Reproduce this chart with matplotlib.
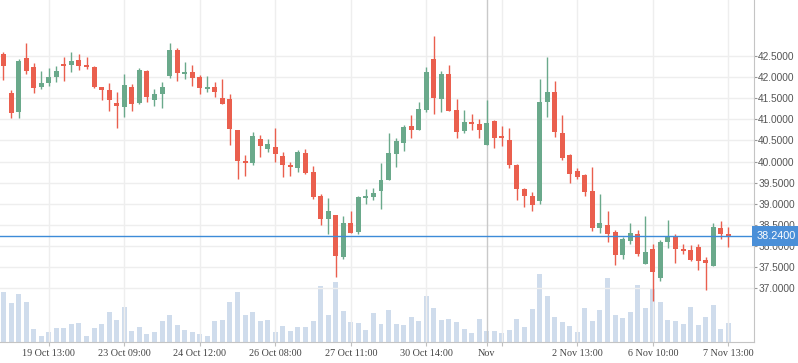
import matplotlib
matplotlib.use("Agg")
import matplotlib.pyplot as plt
import matplotlib.transforms as mtransforms

# OHLC, one candle per period
opens = [42.55, 41.62, 41.18, 42.45, 42.24, 41.77, 41.87, 42.01, 42.29, 42.29,
         42.41, 42.29, 42.24, 41.76, 41.69, 41.39, 41.30, 41.76, 41.39, 42.14,
         41.46, 41.61, 42.03, 42.64, 42.08, 42.12, 42.00, 41.73, 41.76, 41.50,
         41.48, 40.75, 40.01, 39.97, 40.53, 40.30, 40.34, 40.13, 39.92, 39.85,
         40.20, 39.75, 39.18, 38.64, 38.73, 37.74, 38.54, 38.33, 39.14, 39.17,
         39.31, 39.57, 40.18, 40.44, 40.84, 40.75, 41.23, 42.43, 41.49, 42.07,
         41.22, 40.73, 40.93, 40.89, 40.40, 40.96, 40.60, 40.51, 39.92, 39.35,
         39.18, 39.07, 41.42, 41.65, 40.67, 40.15, 39.77, 39.68, 39.30, 38.43,
         38.49, 38.33, 37.79, 38.12, 38.28, 37.58, 37.92, 37.24, 38.10, 38.25,
         37.92, 37.90, 37.97, 37.67, 37.53, 38.42, 38.28]
closes = [42.26, 41.16, 42.38, 42.15, 41.75, 41.86, 42.00, 42.14, 42.27, 42.38,
          42.27, 42.25, 41.77, 41.70, 41.46, 41.32, 41.81, 41.37, 42.17, 41.54,
          41.60, 41.76, 42.64, 42.10, 42.10, 41.99, 41.75, 41.76, 41.65, 41.37,
          40.78, 40.02, 39.97, 40.60, 40.37, 40.41, 40.18, 39.92, 39.88, 40.22,
          39.73, 39.16, 38.64, 38.82, 37.76, 38.54, 38.31, 39.16, 39.18, 39.25,
          39.56, 40.20, 40.48, 40.82, 40.75, 41.24, 42.12, 41.51, 42.07, 41.20,
          40.71, 40.93, 40.90, 40.75, 40.91, 40.56, 40.55, 39.92, 39.35, 39.19,
          38.97, 41.41, 41.65, 40.71, 40.09, 39.71, 39.64, 39.28, 38.43, 38.54,
          38.29, 37.79, 38.16, 38.30, 37.81, 37.85, 37.39, 38.09, 38.25, 37.93,
          37.88, 37.67, 37.65, 37.60, 38.44, 38.29, 38.24]
highs = [42.59, 41.69, 42.44, 42.81, 42.33, 42.14, 42.22, 42.26, 42.48, 42.59,
         42.55, 42.48, 42.26, 41.76, 41.86, 41.65, 42.07, 41.84, 42.22, 42.16,
         41.72, 41.88, 42.81, 42.69, 42.36, 42.29, 42.05, 42.03, 41.88, 41.95,
         41.60, 40.75, 40.15, 40.70, 40.63, 40.53, 40.79, 40.22, 39.99, 40.27,
         40.29, 39.89, 39.23, 39.13, 38.73, 38.71, 38.82, 39.18, 39.35, 39.37,
         39.96, 40.67, 40.55, 40.86, 41.10, 41.41, 42.24, 42.97, 42.14, 42.29,
         41.48, 41.22, 41.12, 41.01, 41.46, 40.99, 40.84, 40.79, 39.94, 39.37,
         39.27, 41.95, 42.48, 41.91, 41.10, 40.18, 39.84, 39.70, 39.87, 39.23,
         38.82, 38.37, 38.21, 38.54, 38.37, 38.71, 38.04, 38.14, 38.61, 38.28,
         38.06, 38.02, 38.06, 37.73, 38.54, 38.59, 38.44]
lows = [41.93, 41.04, 41.04, 42.08, 41.63, 41.73, 41.80, 41.89, 41.92, 42.12,
        42.18, 42.20, 41.75, 41.46, 41.20, 40.80, 41.06, 41.20, 41.37, 41.42,
        41.32, 41.27, 41.99, 41.92, 41.96, 41.80, 41.61, 41.65, 41.54, 41.37,
        40.40, 39.59, 39.66, 39.92, 40.11, 40.23, 39.99, 39.64, 39.66, 39.76,
        39.71, 39.12, 38.50, 38.29, 37.27, 37.69, 38.31, 38.29, 39.00, 39.08,
        38.88, 39.57, 39.88, 40.25, 40.56, 40.75, 41.18, 41.13, 41.18, 41.20,
        40.56, 40.68, 40.75, 40.56, 40.40, 40.33, 40.37, 39.85, 39.09, 38.93,
        38.83, 39.00, 41.06, 40.59, 40.04, 39.50, 39.59, 39.19, 38.36, 38.31,
        38.10, 37.55, 37.69, 38.05, 37.76, 37.58, 36.70, 37.17, 37.95, 37.60,
        37.81, 37.65, 37.43, 36.96, 37.53, 38.17, 37.98]
volumes = [150, 117, 144, 120, 39, 18, 30, 42, 42, 54,
           57, 18, 42, 54, 90, 66, 105, 33, 45, 24,
           30, 63, 81, 51, 36, 30, 24, 18, 63, 66,
           120, 150, 81, 90, 63, 66, 30, 48, 33, 45,
           45, 63, 168, 81, 180, 93, 60, 57, 36, 87,
           54, 96, 54, 51, 75, 63, 138, 102, 66, 69,
           60, 39, 27, 69, 33, 33, 27, 36, 69, 45,
           99, 204, 138, 75, 60, 48, 30, 102, 63, 96,
           192, 81, 72, 90, 171, 102, 159, 120, 66, 63,
           54, 105, 51, 75, 111, 39, 57]

tick_pos = [6, 16, 26, 36, 46, 56, 64, 66, 76, 86, 96]
tick_labels = ["19 Oct 13:00", "23 Oct 09:00", "24 Oct 12:00", "26 Oct 08:00",
               "27 Oct 11:00", "30 Oct 14:00", "Nov", "", "2 Nov 13:00",
               "6 Nov 10:00", "7 Nov 13:00"]
month_pos = 64
price_ticks = [37.0, 37.5, 38.0, 38.5, 39.0, 39.5, 40.0, 40.5, 41.0, 41.5, 42.0, 42.5]
last_price = 38.24

UP = "#6aa98b"
DOWN = "#ea5f4e"
VOL = "#cfdcec"
GRID = "#eeeeee"

fig = plt.figure(figsize=(7.98, 3.63), dpi=100)
rect = [0, 21 / 363, 754 / 798, 342 / 363]
ax_v = fig.add_axes(rect, zorder=0)
ax = fig.add_axes(rect, zorder=1)
ax.patch.set_visible(False)

x = list(range(len(closes)))

# volume underneath
ax_v.bar(x, volumes, width=0.66, color=VOL, linewidth=0)
ax_v.set_ylim(0, 1030)
ax_v.set_xlim(-0.46, 99.4)
ax_v.axis("off")

# candles
colors = [UP if c >= o else DOWN for o, c in zip(opens, closes)]
ax.vlines(x, lows, highs, colors=colors, linewidth=1.0, zorder=3)
bottoms = [min(o, c) for o, c in zip(opens, closes)]
heights = [max(abs(c - o), 0.04) for o, c in zip(opens, closes)]
ax.bar(x, heights, bottom=bottoms, width=0.66, color=colors, linewidth=0, zorder=4)

ax.set_xlim(-0.46, 99.4)
ax.set_ylim(35.729, 43.826)

# grid
for p in price_ticks:
    ax.axhline(p, color=GRID, linewidth=1.0, zorder=1)
for t in tick_pos:
    ax.axvline(t, color="#c9c9c9" if t == month_pos else GRID, linewidth=1.0, zorder=1)

ax.axhline(last_price, color="#3d8bd8", linewidth=1.0, zorder=5)

ax.set_xticks(tick_pos)
ax.set_xticklabels(tick_labels, fontfamily="Liberation Serif", fontsize=7.3, color="#444444")
ax.yaxis.tick_right()
ax.set_yticks(price_ticks)
ax.set_yticklabels([f"{p:.4f}" for p in price_ticks], fontfamily="Liberation Sans",
                   fontsize=7.3, color="#555555")
ax.tick_params(axis="x", length=3, width=0.8, color="#c0c0c0", pad=2)
ax.tick_params(axis="y", length=2, width=0.8, color="#999999", pad=1)

for side in ["top", "left"]:
    ax.spines[side].set_visible(False)
ax.spines["right"].set_color("#c4c4c4")
ax.spines["bottom"].set_color("#c4c4c4")

trans = mtransforms.blended_transform_factory(ax.transAxes, ax.transData)
ax.text(1.004, last_price, f"{last_price:.4f}", transform=trans, ha="left", va="center",
        fontfamily="Liberation Sans", fontsize=7.8, color="white", zorder=10, clip_on=False,
        bbox=dict(boxstyle="square,pad=0.45", fc="#4a8fd8", ec="none"))

fig.savefig("out.png", dpi=100)
